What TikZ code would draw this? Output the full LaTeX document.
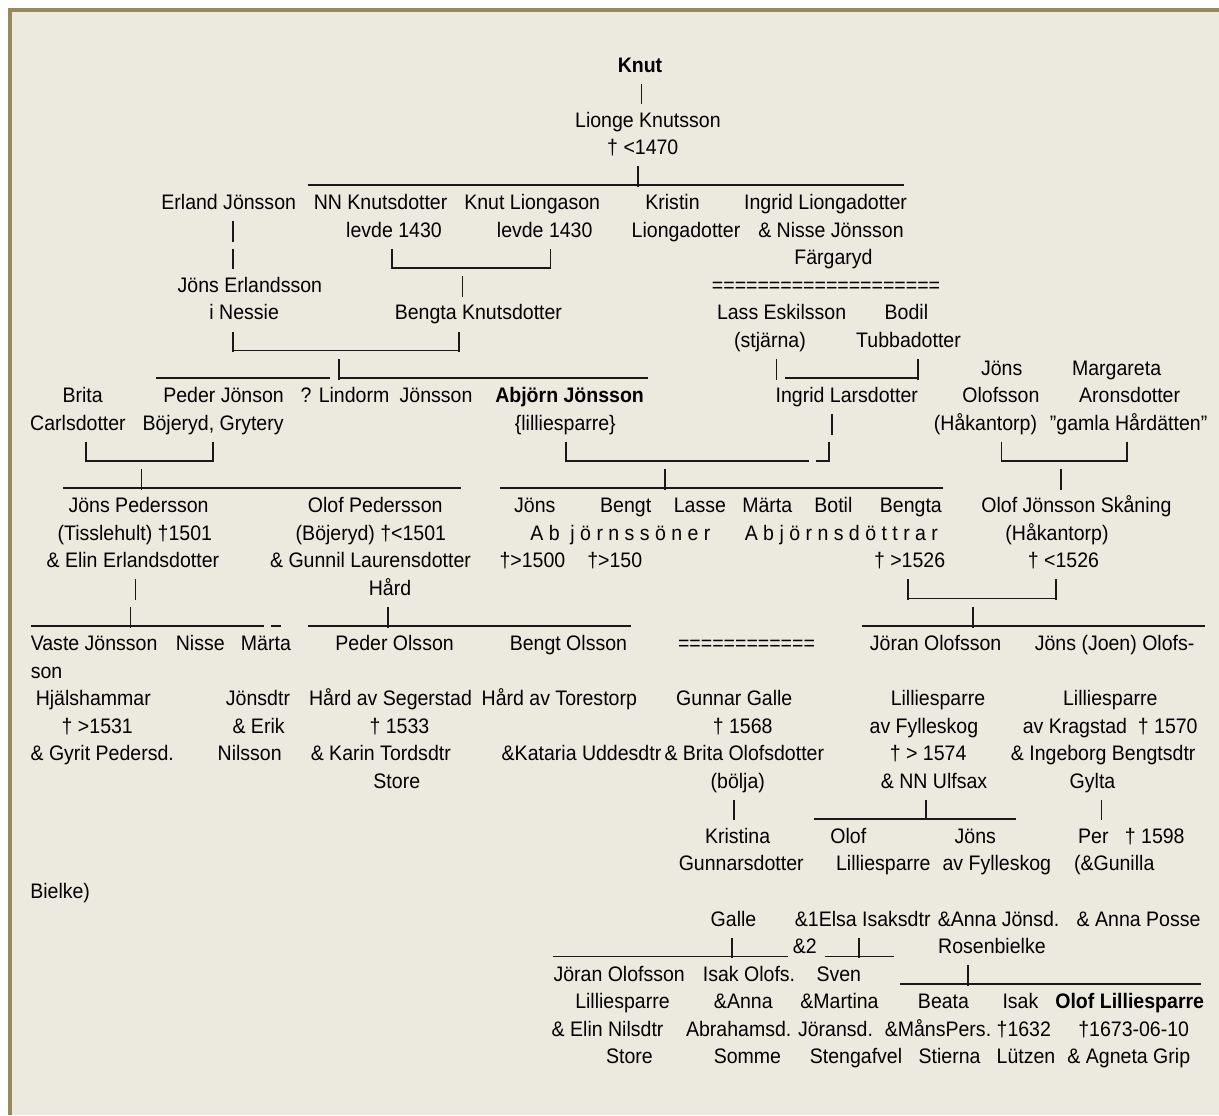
\documentclass[tikz,border=0pt]{standalone}
\usepackage{fontspec}
\setmainfont{Liberation Sans}[FakeStretch=0.93]
\definecolor{bgc}{RGB}{236,233,223}
\definecolor{bordc}{RGB}{152,137,88}
\newcounter{tn}
\tikzset{
  txt/.style={inner sep=0pt,outer sep=0pt,anchor=base,font=\fontsize{15.75}{18}\selectfont,text=black},
  txtl/.style={txt,anchor=base west},
  ln/.style={line width=1.3pt,black!90}
}
\newcommand\gtxt[3]{\stepcounter{tn}\edef\tnm{t\arabic{tn}}\node[txt] (\tnm) at (#1,{72+27.55*(#2)}) {#3};}
\newcommand\gtxtl[3]{\stepcounter{tn}\edef\tnm{t\arabic{tn}}\node[txtl] (\tnm) at (#1,{72+27.55*(#2)}) {#3};}
\newcommand\gvb[2]{\draw[ln] (#1,{64+27.55*(#2)-8}) -- (#1,{64+27.55*(#2)+12.5});}
\newcommand\ghl[3]{\draw[ln] (#1,{64+27.55*(#3)+11}) -- (#2,{64+27.55*(#3)+11});}
\begin{document}
\begin{tikzpicture}[x=0.75pt,y=-0.75pt]
\useasboundingbox (0,0) rectangle (1219,1115);
\fill[white] (0,0) rectangle (1219,1115);
\fill[bgc] (7.5,8) rectangle (1219,1115);
\fill[bordc] (7.5,8) rectangle (1219,12);
\fill[bordc] (7.5,8) rectangle (11.5,1115);
% row 0-4
\gtxt{640}{0}{\bfseries Knut}
\gvb{641.5}{1}
\gtxt{647.9}{2}{Lionge Knutsson}
\gtxt{642.8}{3}{† <1470}
\ghl{307.6}{904}{4}\gvb{638.3}{4}
% row 5
\gtxt{228.7}{5}{Erland Jönsson}
\gtxt{380.6}{5}{NN Knutsdotter}
\gtxt{532.2}{5}{Knut Liongason}
\gtxt{672.5}{5}{Kristin}
\gtxt{825.6}{5}{Ingrid Liongadotter}
% row 6
\gvb{233.3}{6}
\gtxt{394}{6}{levde 1430}
\gtxt{544.7}{6}{levde 1430}
\gtxt{686}{6}{Liongadotter}
\gtxt{831}{6}{\& Nisse Jönsson}
% row 7
\gvb{233.3}{7}
\gvb{392.2}{7}\ghl{392.2}{550.4}{7}\gvb{550.4}{7}
\gtxt{833.5}{7}{Färgaryd}
% row 8
\gtxt{249.9}{8}{Jöns Erlandsson}
\gvb{462.6}{8}
\gtxt{826}{8}{====================}
% row 9
\gtxt{244.2}{9}{i Nessie}
\gtxt{478.4}{9}{Bengta Knutsdotter}
\gtxt{781.6}{9}{Lass Eskilsson}
\gtxt{906.4}{9}{Bodil}
% row 10
\gvb{233.3}{10}\ghl{233.3}{458.7}{10}\gvb{458.7}{10}
\gtxt{770}{10}{(stjärna)}
\gtxt{908.5}{10}{Tubbadotter}
% row 11
\ghl{156.2}{330.2}{11}\gvb{339.3}{11}\ghl{339.3}{648.2}{11}
\gvb{776.5}{11}\ghl{784.8}{917.8}{11}\gvb{917.8}{11}
\gtxt{1001.7}{11}{Jöns}
\gtxt{1116.6}{11}{Margareta}
% row 12
\gtxt{82.6}{12}{Brita}
\gtxt{223.6}{12}{Peder Jönson}
\gtxt{345}{12}{? Lindorm}
\gtxt{436}{12}{Jönsson}
\gtxt{569.6}{12}{\bfseries Abjörn Jönsson}
\gtxt{846.8}{12}{Ingrid Larsdotter}
\gtxt{1000.9}{12}{Olofsson}
\gtxt{1129.6}{12}{Aronsdotter}
% row 13
\gtxt{78}{13}{Carlsdotter}
\gtxt{213.1}{13}{Böjeryd, Grytery}
\gtxt{565.3}{13}{\{lilliesparre\}}
\gvb{832.1}{13}
\gtxt{985.5}{13}{(Håkantorp)}
\gtxt{1128.6}{13}{”gamla Hårdätten”}
% row 14
\gvb{86.2}{14}\ghl{86.2}{212.7}{14}\gvb{212.7}{14}
\gvb{566.2}{14}\ghl{566.2}{809.2}{14}\ghl{816.4}{829}{14}\gvb{829}{14}
\gvb{1001.5}{14}\ghl{1001.5}{1127}{14}\gvb{1127}{14}
% row 15
\ghl{63.3}{460.6}{15}\gvb{141.6}{15}
\ghl{500.2}{942.7}{15}\gvb{665.1}{15}
\gvb{1060.7}{15}
% row 16
\gtxt{138.6}{16}{Jöns Pedersson}
\gtxt{375.2}{16}{Olof Pedersson}
\gtxt{534.8}{16}{Jöns}
\gtxt{625.7}{16}{Bengt}
\gtxt{699.9}{16}{Lasse}
\gtxt{767.2}{16}{Märta}
\gtxt{833.4}{16}{Botil}
\gtxt{910.9}{16}{Bengta}
\gtxt{1076.4}{16}{Olof Jönsson Skåning}
% row 17
\gtxt{134.8}{17}{(Tisslehult) †1501}
\gtxt{370.9}{17}{(Böjeryd) †<1501}
\gtxt{620.4}{17}{A b\ \ j ö r n s s ö n e r}
\gtxt{841.4}{17}{A b j ö r n s d ö t t r a r}
\gtxt{1057}{17}{(Håkantorp)}
% row 18
\gtxt{132.9}{18}{\& Elin Erlandsdotter}
\gtxt{370.5}{18}{\& Gunnil Laurensdotter}
\gtxt{532.4}{18}{†>1500}
\gtxt{614.7}{18}{†>150}
\gtxt{909.6}{18}{† >1526}
\gtxt{1063.5}{18}{† <1526}
% row 19
\gvb{135.6}{19}
\gtxt{390}{19}{Hård}
\gvb{907.9}{19}\ghl{907.9}{1056}{19}\gvb{1056}{19}
% row 20
\ghl{30.8}{264.1}{20}\gvb{130.5}{20}\ghl{270.9}{280.7}{20}
\ghl{308.4}{630.8}{20}\gvb{388.3}{20}
\ghl{861.7}{1205.2}{20}\gvb{973}{20}
% row 21
\gtxtl{30.8}{21}{Vaste Jönsson}
\gtxt{200.3}{21}{Nisse}
\gtxt{265.9}{21}{Märta}
\gtxt{394.6}{21}{Peder Olsson}
\gtxt{568.4}{21}{Bengt Olsson}
\gtxt{746.5}{21}{============}
\gtxt{935.6}{21}{Jöran Olofsson}
\gtxt{1114.6}{21}{Jöns (Joen) Olofs-}
% row 22
\gtxtl{30.8}{22}{son}
% row 23
\gtxt{93.3}{23}{Hjälshammar}
\gtxt{258}{23}{Jönsdtr}
\gtxt{390.5}{23}{Hård av Segerstad}
\gtxt{559.3}{23}{Hård av Torestorp}
\gtxt{734.3}{23}{Gunnar Galle}
\gtxt{938}{23}{Lilliesparre}
\gtxt{1110.3}{23}{Lilliesparre}
% row 24
\gtxt{97.3}{24}{† >1531}
\gtxt{258.6}{24}{\& Erik}
\gtxt{399.4}{24}{† 1533}
\gtxt{742.7}{24}{† 1568}
\gtxt{923.9}{24}{av Fylleskog}
\gtxt{1110.2}{24}{av Kragstad\ \ † 1570}
% row 25
\gtxt{102.2}{25}{\& Gyrit Pedersd.}
\gtxt{249.7}{25}{Nilsson}
\gtxt{380.8}{25}{\& Karin Tordsdtr}
\gtxt{581.5}{25}{\&Kataria Uddesdtr}
\gtxt{744.3}{25}{\& Brita Olofsdotter}
\gtxt{928.1}{25}{† > 1574}
\gtxt{1103.2}{25}{\& Ingeborg Bengtsdtr}
% row 26
\gtxt{396.8}{26}{Store}
\gtxt{737.8}{26}{(bölja)}
\gtxt{934}{26}{\& NN Ulfsax}
\gtxt{1092.5}{26}{Gylta}
% row 27
\gvb{734.2}{27}
\ghl{814.4}{1015.7}{27}\gvb{925.7}{27}
\gvb{1101.4}{27}
% row 28
\gtxt{737.6}{28}{Kristina}
\gtxt{848.3}{28}{Olof}
\gtxt{975.3}{28}{Jöns}
\gtxt{1131.4}{28}{Per\ \ \ † 1598}
% row 29
\gtxt{741.2}{29}{Gunnarsdotter}
\gtxt{883.3}{29}{Lilliesparre}
\gtxt{996.8}{29}{av Fylleskog}
\gtxt{1114.2}{29}{(\&Gunilla}
% row 30
\gtxtl{30.3}{30}{Bielke)}
% row 31
\gtxt{733.5}{31}{Galle}
\gtxt{862.7}{31}{\&1Elsa Isaksdtr}
\gtxt{998.6}{31}{\&Anna Jönsd.}
\gtxt{1138.6}{31}{\& Anna Posse}
% row 32
\ghl{553.4}{787.5}{32}\gvb{731.8}{32}
\gtxt{804.9}{32}{\&2}
\ghl{824.5}{893.6}{32}\gvb{858.8}{32}
\gtxt{991.9}{32}{Rosenbielke}
% row 33
\gtxt{619.2}{33}{Jöran Olofsson}
\gtxt{749}{33}{Isak Olofs.}
\gtxt{838.8}{33}{Sven}
\ghl{899.8}{1200.8}{33}\gvb{968}{33}
% row 34
\gtxt{622.5}{34}{Lilliesparre}
\gtxt{743.3}{34}{\&Anna}
\gtxt{839.5}{34}{\&Martina}
\gtxt{943.5}{34}{Beata}
\gtxt{1020.4}{34}{Isak}
\gtxt{1129.7}{34}{\bfseries Olof Lilliesparre}
% row 35
\gtxt{607.6}{35}{\& Elin Nilsdtr}
\gtxt{738.7}{35}{Abrahamsd.}
\gtxt{835.5}{35}{Jöransd.}
\gtxt{938}{35}{\&MånsPers.}
\gtxt{1023.8}{35}{†1632}
\gtxt{1133.7}{35}{†1673-06-10}
% row 36
\gtxt{629.4}{36}{Store}
\gtxt{747.4}{36}{Somme}
\gtxt{856}{36}{Stengafvel}
\gtxt{949.6}{36}{Stierna}
\gtxt{1026}{36}{Lützen}
\gtxt{1128.8}{36}{\& Agneta Grip}
\end{tikzpicture}
\end{document}
